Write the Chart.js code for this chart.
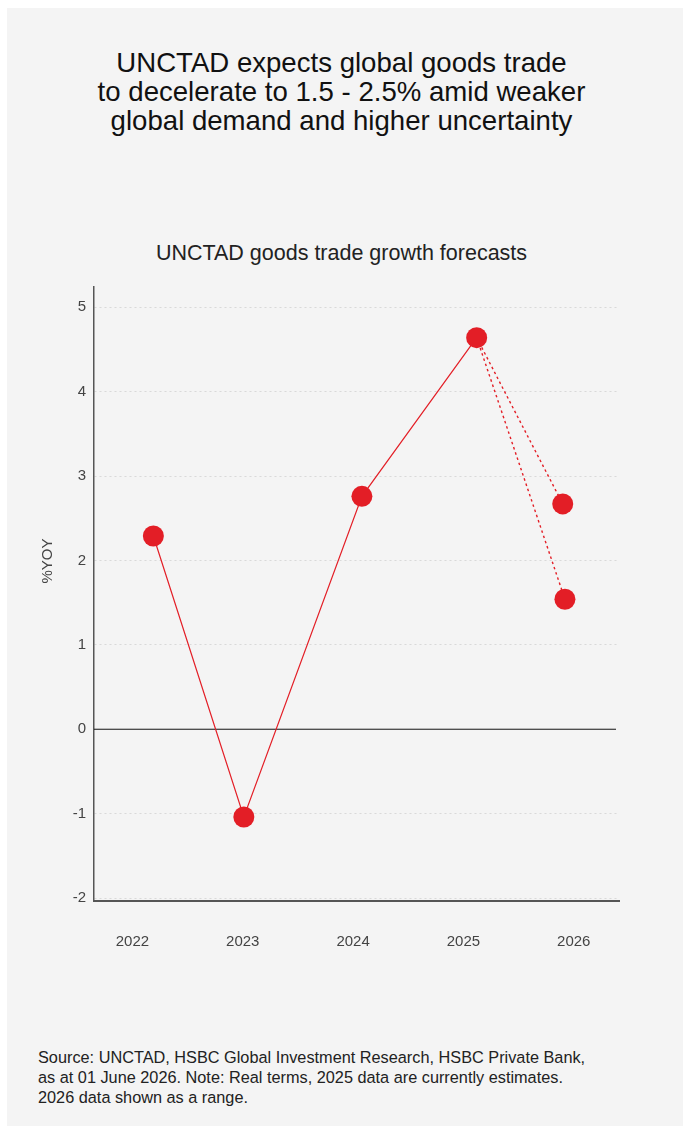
<!DOCTYPE html>
<html>
<head>
    <title>UNCTAD goods trade growth forecasts</title>
    <style>
        body {
            margin: 0;
            background: #ffffff;
            font-family: "Liberation Sans", Arial, sans-serif;
        }

        .card {
            position: absolute;
            left: 7px;
            top: 8px;
            width: 676px;
            height: 1118px;
            background: #f4f4f4;
        }

        .headline {
            position: absolute;
            left: 0;
            top: 48px;
            width: 683px;
            text-align: center;
            font-size: 27.6px;
            line-height: 29px;
            color: #111;
        }

        .subtitle {
            position: absolute;
            left: 0;
            top: 241px;
            width: 683px;
            text-align: center;
            font-size: 21.5px;
            color: #222;
        }

        #wrap {
            position: absolute;
            left: 0;
            top: 270px;
            width: 683px;
            height: 700px;
        }

        .source {
            position: absolute;
            left: 38px;
            top: 1047px;
            font-size: 16.3px;
            line-height: 20px;
            color: #222;
        }
    </style>
</head>
<body>
    <div class="card"></div>
    <div class="headline">UNCTAD expects global goods trade<br>to decelerate to 1.5 - 2.5% amid weaker<br>global demand and higher uncertainty</div>
    <div class="subtitle">UNCTAD goods trade growth forecasts</div>
    <div id="wrap"><canvas id="chart"></canvas></div>
    <div class="source">Source: UNCTAD, HSBC Global Investment Research, HSBC Private Bank,<br>as at 01 June 2026. Note: Real terms, 2025 data are currently estimates.<br>2026 data shown as a range.</div>

    <script src="https://cdn.jsdelivr.net/npm/chart.js"></script>
    <script>
        // values
        const yearTicks = [2022, 2023, 2024, 2025, 2026];
        const yTicks = [-2, -1, 0, 1, 2, 3, 4, 5];
        const pointYears = [2022.19, 2023.01, 2024.08, 2025.12];
        const growth = [2.29, -1.04, 2.76, 4.64];
        const rangeYears = [2025.90, 2025.92];
        const range2026 = [2.67, 1.54];

        const red = '#e31e26';
        const tickFont = { size: 15, family: '"Liberation Sans", Arial, sans-serif' };

        // black line at zero + rotated y label
        const extras = {
            id: 'extras',
            beforeDatasetsDraw(chart) {
                const { ctx, chartArea, scales } = chart;
                const y0 = scales.y.getPixelForValue(0);
                ctx.save();
                ctx.strokeStyle = '#111';
                ctx.lineWidth = 1;
                ctx.beginPath();
                ctx.moveTo(chartArea.left, y0);
                ctx.lineTo(chartArea.right - 3, y0);
                ctx.stroke();
                ctx.restore();
            },
            afterDraw(chart) {
                const { ctx } = chart;
                ctx.save();
                ctx.translate(48, 291);
                ctx.rotate(-Math.PI / 2);
                ctx.fillStyle = '#444';
                ctx.font = '15px "Liberation Sans", Arial, sans-serif';
                ctx.textAlign = 'center';
                ctx.textBaseline = 'middle';
                ctx.fillText('%YOY', 0, 0);
                ctx.restore();
            }
        };

        function xy(xs, ys) {
            return xs.map((x, i) => ({ x: x, y: ys[i] }));
        }

        const last = { x: pointYears[3], y: growth[3] };

        new Chart(document.getElementById('chart'), {
            type: 'line',
            data: {
                datasets: [
                    {
                        data: xy(pointYears, growth),
                        borderColor: red,
                        borderWidth: 1.2,
                        backgroundColor: red,
                        pointRadius: 10.5,
                        pointBorderWidth: 0,
                        order: 0
                    },
                    {
                        data: [last, { x: rangeYears[0], y: range2026[0] }],
                        borderColor: red,
                        borderWidth: 1.4,
                        borderDash: [2.5, 3],
                        backgroundColor: red,
                        pointRadius: [0, 10.5],
                        pointBorderWidth: 0,
                        order: 1
                    },
                    {
                        data: [last, { x: rangeYears[1], y: range2026[1] }],
                        borderColor: red,
                        borderWidth: 1.4,
                        borderDash: [2.5, 3],
                        backgroundColor: red,
                        pointRadius: [0, 10.5],
                        pointBorderWidth: 0,
                        order: 1
                    }
                ]
            },
            options: {
                responsive: true,
                maintainAspectRatio: false,
                animation: false,
                layout: { padding: { top: 13, right: 64, left: 0, bottom: 0 } },
                plugins: {
                    legend: { display: false },
                    tooltip: { enabled: false }
                },
                scales: {
                    x: {
                        type: 'linear',
                        min: 2021.652,
                        max: 2026.41,
                        afterBuildTicks: scale => {
                            scale.ticks = yearTicks.map(v => ({ value: v }));
                        },
                        afterFit: scale => { scale.height = 69; },
                        grid: { display: false, drawTicks: false },
                        border: { color: '#555', width: 2 },
                        ticks: {
                            padding: 32,
                            color: '#444',
                            font: tickFont,
                            callback: v => String(v)
                        }
                    },
                    y: {
                        min: -2.035,
                        max: 5.24,
                        afterBuildTicks: scale => {
                            scale.ticks = yTicks.map(v => ({ value: v }));
                        },
                        afterFit: scale => { scale.width = 94; },
                        grid: {
                            color: ctx => ctx.tick && ctx.tick.value === 0 ? 'rgba(0,0,0,0)' : '#d9d9d9',
                            drawTicks: false,
                            lineWidth: 1
                        },
                        border: { color: '#555', width: 1.5, dash: [2, 3] },
                        ticks: {
                            padding: 8,
                            color: '#444',
                            font: tickFont
                        }
                    }
                }
            },
            plugins: [extras]
        });
    </script>
</body>
</html>
